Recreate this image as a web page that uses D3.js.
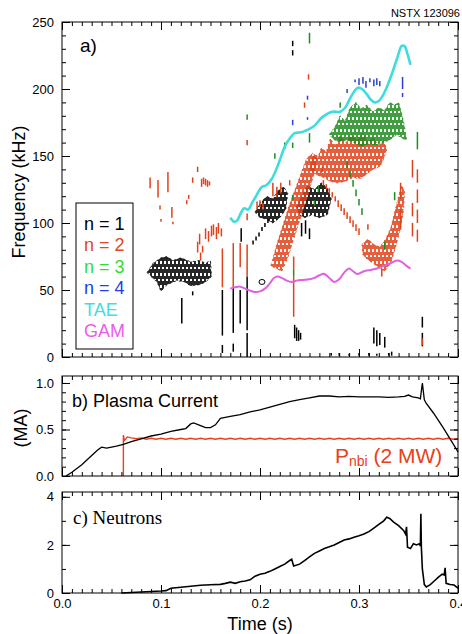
<!DOCTYPE html>
<html>
<head>
<meta charset="utf-8">
<script src="https://cdn.jsdelivr.net/npm/d3@7"></script>
<style>
body { margin: 0; background: #fff; }
</style>
</head>
<body>
<div id="chart"></div>
<script>
// ---- tick labels ----
var timeTicks = [0.0, 0.1, 0.2, 0.3, 0.4];
var freqTicks = [0, 50, 100, 150, 200, 250];
var currentTicks = [0.0, 0.5, 1.0];
var neutronTicks = [0, 2, 4];

// ---- panel a: mode activity, [t (s), f low (kHz), f high (kHz)] ----
var n1Dashes = [
  [0.121,25,44],[0.132,46,49],
  [0.162,16,50],[0.162,3,9],[0.173,18,52],[0.173,4,10],[0.180,25,50],[0.181,86,96],
  [0.187,20,60],[0.187,0,18],
  [0.193,84,87],[0.196,87,90],[0.199,90,93],[0.202,94,97],[0.205,97,100],[0.208,100,103],
  [0.242,90,100],[0.246,92,102],[0.250,88,96],[0.233,225,229],[0.233,232,236],
  [0.235,14,24],[0.237,12,22],[0.239,12,20],[0.241,13,18],
  [0.315,10,22],[0.318,8,20],[0.321,9,18],[0.326,7,15],
  [0.364,22,30],[0.364,8,18],
  [0.272,1,3],[0.280,1,3],[0.290,1,2.5],[0.300,1,3],[0.310,1,3],[0.318,1,2.5],[0.330,1,3],[0.333,1,4]
];
var n2Dashes = [
  [0.089,126,134],[0.097,119,132],[0.107,123,138],[0.099,110,113],[0.100,101,103],
  [0.111,104,112],[0.112,99,101],[0.126,114,117],[0.128,118,121],[0.132,130,134],[0.137,138,142],
  [0.141,127,133],[0.143,129,134],[0.145,128,133],[0.147,127,132],[0.149,128,131],
  [0.137,78,86],[0.140,72,78],[0.139,84,92],[0.142,78,83],[0.145,88,96],[0.148,86,94],
  [0.151,90,98],[0.153,91,99],[0.156,88,97],[0.158,92,100],[0.161,90,96],
  [0.162,52,81],[0.173,52,85],[0.180,67,85],[0.187,60,84],
  [0.187,102,107],[0.187,158,162],
  [0.197,110,116],[0.200,112,117],[0.203,110,115],
  [0.213,120,130],[0.217,119,127],[0.221,122,130],[0.230,128,132],
  [0.234,65,75],[0.234,30,60],
  [0.249,207,211],[0.245,186,190],[0.263,138,142],
  [0.264,128,132],[0.267,125,129],[0.270,122,126],[0.273,119,123],[0.276,116,120],
  [0.279,112,117],[0.282,109,114],[0.285,106,111],[0.288,103,108],[0.291,100,105],
  [0.294,97,102],[0.297,94,99],[0.300,91,96],[0.309,95,99],[0.323,60,66],
  [0.354,134,147],[0.354,105,115],[0.354,90,100],
  [0.359,130,140],[0.359,115,125],[0.359,100,110],[0.359,86,95],
  [0.342,118,130],[0.342,95,110],[0.364,9,14]
];
var n3Dashes = [
  [0.187,177,181],[0.250,234,242],[0.215,148,152],[0.225,155,160],[0.233,156,160],
  [0.281,186,190],[0.359,155,168],[0.336,117,123],[0.326,80,86],[0.234,60,65],
  [0.250,160,167],[0.259,123,128],[0.233,117,121],[0.255,113,117],
  [0.288,141,146],[0.291,134,139],[0.294,127,132],[0.297,120,125],[0.300,113,118],[0.303,106,111]
];
var n4Dashes = [
  [0.233,173,177],[0.248,192,195],[0.248,177,179],[0.288,197,200],
  [0.296,205,207],[0.300,203,208],[0.304,204,209],[0.307,201,206],[0.311,205,208],
  [0.315,202,207],[0.318,203,208],[0.321,202,206],[0.344,200,209],[0.344,194,197]
];
var n1Rings = [[0.202, 56]];

// dense patches, outline [t, f]
var n1Clouds = [
  [[0.086,63],[0.092,70],[0.100,74],[0.106,75],[0.112,72],[0.120,74],[0.130,71],[0.139,72],[0.145,70],[0.150,72],
   [0.151,60],[0.145,56],[0.139,54],[0.130,53],[0.124,56],[0.116,57],[0.106,54],[0.100,49],[0.096,56],[0.090,60]],
  [[0.195,108],[0.200,115],[0.207,120],[0.213,118],[0.218,124],[0.224,127],[0.228,122],[0.226,110],[0.220,104],[0.213,100],[0.206,103],[0.200,104]],
  [[0.237,112],[0.242,120],[0.248,128],[0.255,125],[0.262,130],[0.268,126],[0.272,118],[0.268,106],[0.260,104],[0.252,106],[0.245,104],[0.240,106]]
];
var n2Clouds = [
  [[0.250,140],[0.254,151],[0.258,148],[0.262,156],[0.267,153],[0.271,163],[0.276,158],[0.281,165],[0.287,160],
   [0.292,166],[0.298,162],[0.304,167],[0.309,160],[0.314,164],[0.320,158],[0.325,161],[0.328,155],[0.325,148],
   [0.321,142],[0.314,140],[0.307,136],[0.301,133],[0.294,134],[0.286,131],[0.278,130],[0.271,131],[0.264,134],[0.257,136]],
  [[0.211,68],[0.217,84],[0.223,98],[0.229,112],[0.236,126],[0.242,138],[0.247,148],[0.253,152],[0.258,150],
   [0.254,135],[0.248,120],[0.241,104],[0.234,88],[0.228,74],[0.222,64]],
  [[0.303,84],[0.309,88],[0.315,84],[0.321,82],[0.327,88],[0.332,96],[0.336,108],[0.340,120],[0.343,128],[0.346,124],
   [0.345,110],[0.342,96],[0.337,82],[0.332,70],[0.326,64],[0.318,68],[0.310,72],[0.304,76]]
];
var n3Clouds = [
  [[0.270,166],[0.276,172],[0.281,180],[0.286,176],[0.291,186],[0.297,190],[0.302,185],[0.308,188],[0.314,183],
   [0.320,186],[0.326,184],[0.331,190],[0.336,188],[0.340,190],[0.343,182],[0.346,172],[0.348,162],[0.344,163],
   [0.338,166],[0.331,162],[0.324,160],[0.317,158],[0.310,159],[0.302,157],[0.295,160],[0.288,162],[0.281,161],[0.275,162]]
];

var taeFreq = [
  [0.170,104],[0.174,101],[0.177,102],[0.181,108],[0.184,111],[0.188,110],[0.192,115],[0.196,120],[0.202,127],
  [0.206,128],[0.212,133],[0.217,141],[0.221,149],[0.225,157],[0.230,163],[0.235,167],[0.243,168],[0.254,172],
  [0.263,179],[0.273,183],[0.281,183],[0.286,186],[0.291,193],[0.295,198],[0.299,201],[0.303,200],[0.308,196],
  [0.312,192],[0.316,190],[0.320,191],[0.324,195],[0.329,203],[0.334,213],[0.339,224],[0.343,232],[0.346,232],
  [0.349,226],[0.352,218]
];
var gamFreq = [
  [0.170,51],[0.175,52],[0.180,52.5],[0.185,51],[0.190,49.5],[0.195,48.5],[0.200,49],[0.205,51],[0.210,55],
  [0.214,59],[0.218,60],[0.222,59],[0.227,57],[0.232,56],[0.237,57],[0.243,57.5],[0.250,58],[0.255,59],
  [0.260,61],[0.265,62],[0.270,59],[0.275,56],[0.280,58],[0.285,63],[0.290,66],[0.294,64],[0.298,62],
  [0.305,64],[0.312,65],[0.318,66],[0.325,68],[0.332,70],[0.338,72],[0.343,71],[0.348,68],[0.352,66]
];

// ---- panel b ----
var plasmaCurrent = [
  [0.004,0],[0.010,0.04],[0.020,0.12],[0.030,0.22],[0.036,0.28],[0.040,0.31],[0.045,0.30],[0.050,0.31],
  [0.055,0.32],[0.062,0.34],[0.070,0.37],[0.080,0.40],[0.090,0.43],[0.100,0.45],[0.110,0.48],[0.120,0.50],
  [0.125,0.51],[0.130,0.56],[0.133,0.57],[0.138,0.55],[0.145,0.52],[0.150,0.52],[0.155,0.55],[0.160,0.62],
  [0.170,0.64],[0.180,0.66],[0.190,0.69],[0.200,0.71],[0.210,0.74],[0.220,0.77],[0.230,0.80],[0.240,0.82],
  [0.250,0.84],[0.260,0.86],[0.270,0.86],[0.280,0.85],[0.290,0.855],[0.300,0.85],[0.310,0.85],[0.320,0.85],
  [0.330,0.845],[0.340,0.85],[0.346,0.855],[0.350,0.87],[0.354,0.85],[0.360,0.84],[0.362,0.83],[0.364,1.0],
  [0.366,0.82],[0.368,0.78],[0.375,0.68],[0.380,0.6],[0.385,0.52],[0.392,0.40],[0.396,0.33],[0.400,0.26]
];
var pnbi = [
  [0.062,0],[0.062,0.44],[0.063,0.38],[0.066,0.42],[0.070,0.41],[0.075,0.40],[0.080,0.41],[0.085,0.395],
  [0.090,0.405],[0.095,0.395],[0.100,0.405],[0.105,0.395],[0.110,0.405],[0.115,0.395],[0.120,0.405],
  [0.125,0.395],[0.130,0.405],[0.135,0.395],[0.140,0.405],[0.145,0.395],[0.150,0.405],[0.155,0.395],
  [0.160,0.405],[0.165,0.395],[0.170,0.405],[0.175,0.395],[0.180,0.405],[0.185,0.395],[0.190,0.405],
  [0.195,0.395],[0.200,0.405],[0.205,0.395],[0.210,0.405],[0.215,0.395],[0.220,0.405],[0.225,0.395],
  [0.230,0.405],[0.235,0.395],[0.240,0.405],[0.245,0.395],[0.250,0.405],[0.255,0.395],[0.260,0.405],
  [0.265,0.395],[0.270,0.405],[0.275,0.395],[0.280,0.405],[0.285,0.395],[0.290,0.405],[0.295,0.395],
  [0.300,0.405],[0.305,0.395],[0.310,0.405],[0.315,0.395],[0.320,0.405],[0.325,0.395],[0.330,0.405],
  [0.335,0.395],[0.340,0.405],[0.345,0.395],[0.350,0.405],[0.355,0.395],[0.360,0.405],[0.365,0.395],
  [0.370,0.405],[0.375,0.395],[0.380,0.405],[0.385,0.395],[0.390,0.405],[0.395,0.395],[0.400,0.405]
];

// ---- panel c ----
var neutrons = [
  [0.060,0],[0.070,0.02],[0.080,0.04],[0.090,0.06],[0.100,0.08],[0.105,0.10],[0.110,0.20],[0.120,0.24],
  [0.130,0.28],[0.140,0.32],[0.150,0.34],[0.160,0.36],[0.165,0.40],[0.170,0.45],[0.175,0.40],[0.180,0.47],
  [0.185,0.50],[0.190,0.55],[0.195,0.70],[0.200,0.78],[0.205,0.82],[0.210,0.90],[0.215,1.00],[0.220,1.10],
  [0.225,1.20],[0.230,1.35],[0.232,1.40],[0.234,1.12],[0.240,1.20],[0.245,1.35],[0.250,1.50],[0.255,1.65],
  [0.260,1.75],[0.265,1.85],[0.270,1.92],[0.275,2.00],[0.280,2.10],[0.285,2.20],[0.290,2.25],[0.295,2.32],
  [0.300,2.38],[0.305,2.45],[0.310,2.55],[0.315,2.70],[0.320,2.85],[0.325,3.00],[0.328,3.15],[0.331,3.10],
  [0.335,2.95],[0.340,2.80],[0.345,2.60],[0.347,2.45],[0.348,2.75],[0.349,1.90],[0.352,1.85],[0.355,2.05],
  [0.358,2.00],[0.361,2.05],[0.362,1.95],[0.3625,3.30],[0.363,1.90],[0.364,1.00],[0.366,0.35],[0.368,0.25],
  [0.372,0.35],[0.376,0.50],[0.380,0.65],[0.384,0.78],[0.386,0.75],[0.387,1.05],[0.388,0.40],[0.392,0.35],
  [0.396,0.33],[0.400,0.20]
];

var legendItems = [
  {label: 'n = 1', color: '#000000'},
  {label: 'n = 2', color: '#e4461e'},
  {label: 'n = 3', color: '#2ee02e'},
  {label: 'n = 4', color: '#2040e8'},
  {label: 'TAE', color: '#40dede'},
  {label: 'GAM', color: '#ec5cec'}
];
var modeColors = { n1: '#000000', n2: '#e0421a', n3: '#1e8c1e', n4: '#2a40d4' };

var SANS = '"Liberation Sans", Arial, Helvetica, sans-serif';
var SERIF = '"Liberation Serif", "Times New Roman", serif';

var width = 462, height = 634;
var svg = d3.select('#chart').append('svg')
  .attr('width', width).attr('height', height)
  .style('background', '#fff')
  .style('font-family', SANS);

var x = d3.scaleLinear().domain([0, 0.4]).range([62, 458]);
var ya = d3.scaleLinear().domain([0, 250]).range([357, 22]);
var yb = d3.scaleLinear().domain([0, 1.075]).range([476, 376]);
var yc = d3.scaleLinear().domain([0, 4.2]).range([593, 492]);

// dense vertical-stroke patterns to mimic the spectrogram texture
var defs = svg.append('defs');
Object.keys(modeColors).forEach(function(k) {
  var p = defs.append('pattern').attr('id', 'hatch-' + k)
    .attr('patternUnits', 'userSpaceOnUse').attr('width', 4).attr('height', 12);
  [[1, 0, 9], [3, 0, 3], [3, 5, 12]].forEach(function(s) {
    p.append('line').attr('x1', s[0]).attr('x2', s[0]).attr('y1', s[1]).attr('y2', s[2])
      .attr('stroke', modeColors[k]).attr('stroke-width', 1.7);
  });
});

function axes(y, top, bottom, yTicks, yMinor, yFmt, showX) {
  var g = svg.append('g');
  var xMinor = d3.range(0, 0.4001, 0.01);

  function style(sel) {
    sel.select('.domain').remove();
    sel.selectAll('line').attr('stroke', '#000').attr('stroke-width', 1);
    sel.selectAll('text').attr('font-size', 13).attr('fill', '#000').style('font-family', SANS);
  }

  g.append('g').attr('transform', 'translate(0,' + bottom + ')')
    .call(d3.axisBottom(x).tickValues(xMinor).tickSizeInner(-4).tickSizeOuter(0).tickFormat(''))
    .call(style);
  g.append('g').attr('transform', 'translate(0,' + bottom + ')')
    .call(d3.axisBottom(x).tickValues(timeTicks).tickSizeInner(-8).tickSizeOuter(0).tickPadding(6)
      .tickFormat(showX ? d3.format('.1f') : ''))
    .call(style);
  g.append('g').attr('transform', 'translate(0,' + top + ')')
    .call(d3.axisTop(x).tickValues(xMinor).tickSizeInner(-4).tickSizeOuter(0).tickFormat(''))
    .call(style);
  g.append('g').attr('transform', 'translate(0,' + top + ')')
    .call(d3.axisTop(x).tickValues(timeTicks).tickSizeInner(-8).tickSizeOuter(0).tickFormat(''))
    .call(style);

  g.append('g').attr('transform', 'translate(62,0)')
    .call(d3.axisLeft(y).tickValues(yMinor).tickSizeInner(-4).tickSizeOuter(0).tickFormat(''))
    .call(style);
  g.append('g').attr('transform', 'translate(62,0)')
    .call(d3.axisLeft(y).tickValues(yTicks).tickSizeInner(-8).tickSizeOuter(0).tickPadding(8).tickFormat(yFmt))
    .call(style);
  g.append('g').attr('transform', 'translate(458,0)')
    .call(d3.axisRight(y).tickValues(yMinor).tickSizeInner(-4).tickSizeOuter(0).tickFormat(''))
    .call(style);
  g.append('g').attr('transform', 'translate(458,0)')
    .call(d3.axisRight(y).tickValues(yTicks).tickSizeInner(-8).tickSizeOuter(0).tickFormat(''))
    .call(style);

  g.append('rect').attr('x', 62).attr('y', top).attr('width', 396).attr('height', bottom - top)
    .attr('fill', 'none').attr('stroke', '#000').attr('stroke-width', 1);
}

// ---------------- panel a ----------------
var cloudLine = d3.line().x(function(d) { return x(d[0]); }).y(function(d) { return ya(d[1]); })
  .curve(d3.curveLinearClosed);

function drawMode(key, clouds, dashes) {
  var g = svg.append('g');
  g.selectAll('path').data(clouds).enter().append('path')
    .attr('d', cloudLine)
    .attr('fill', 'url(#hatch-' + key + ')')
    .attr('stroke', modeColors[key])
    .attr('stroke-width', 0.8)
    .attr('stroke-dasharray', '2,3');
  g.selectAll('line').data(dashes).enter().append('line')
    .attr('x1', function(d) { return x(d[0]); })
    .attr('x2', function(d) { return x(d[0]); })
    .attr('y1', function(d) { return ya(d[1]); })
    .attr('y2', function(d) { return ya(d[2]); })
    .attr('stroke', modeColors[key])
    .attr('stroke-width', 1.5);
}

drawMode('n1', n1Clouds, n1Dashes);
svg.append('g').selectAll('ellipse').data(n1Rings).enter().append('ellipse')
  .attr('cx', function(d) { return x(d[0]); })
  .attr('cy', function(d) { return ya(d[1]); })
  .attr('rx', 3).attr('ry', 2.5)
  .attr('fill', 'none').attr('stroke', '#000').attr('stroke-width', 1);
drawMode('n2', n2Clouds, n2Dashes);
drawMode('n3', n3Clouds, n3Dashes);
drawMode('n4', [], n4Dashes);

var freqLine = d3.line().x(function(d) { return x(d[0]); }).y(function(d) { return ya(d[1]); })
  .curve(d3.curveCatmullRom);
svg.append('path').datum(taeFreq).attr('d', freqLine)
  .attr('fill', 'none').attr('stroke', '#3fdcdc').attr('stroke-width', 2.6);
svg.append('path').datum(gamFreq).attr('d', freqLine)
  .attr('fill', 'none').attr('stroke', '#e060e0').attr('stroke-width', 2);

axes(ya, 22, 357, freqTicks, d3.range(0, 250.1, 10), d3.format('d'), false);

// legend
var legend = svg.append('g');
legend.append('rect').attr('x', 76).attr('y', 203).attr('width', 57).attr('height', 146)
  .attr('fill', '#fff').attr('stroke', '#000').attr('stroke-width', 1);
legend.selectAll('text').data(legendItems).enter().append('text')
  .attr('x', 84)
  .attr('y', function(d, i) { return 230 + i * 21.4; })
  .attr('font-size', 18)
  .attr('fill', function(d) { return d.color; })
  .text(function(d) { return d.label; });

svg.append('text').attr('x', 80).attr('y', 52).attr('font-size', 19).text('a)');
svg.append('text').attr('x', 460).attr('y', 17).attr('text-anchor', 'end')
  .attr('font-size', 11).text('NSTX 123096');
svg.append('text').attr('transform', 'translate(25,192) rotate(-90)')
  .attr('text-anchor', 'middle').attr('font-size', 18).text('Frequency (kHz)');

// ---------------- panel b ----------------
var lineB = d3.line().x(function(d) { return x(d[0]); }).y(function(d) { return yb(d[1]); });
svg.append('path').datum(pnbi).attr('d', lineB)
  .attr('fill', 'none').attr('stroke', '#e8401a').attr('stroke-width', 1.4);
svg.append('path').datum(plasmaCurrent).attr('d', lineB)
  .attr('fill', 'none').attr('stroke', '#000').attr('stroke-width', 1.3);

axes(yb, 376, 476, currentTicks, d3.range(0, 1.0501, 0.1), d3.format('.1f'), false);

svg.append('text').attr('x', 72).attr('y', 407).attr('font-size', 18).text('b) Plasma Current');
var pn = svg.append('text').attr('x', 335).attr('y', 463).attr('font-size', 21).attr('fill', '#e8401a');
pn.append('tspan').text('P');
pn.append('tspan').attr('font-size', 14).attr('dy', 3).text('nbi');
pn.append('tspan').attr('dy', -3).text(' (2 MW)');
svg.append('text').attr('transform', 'translate(27,428) rotate(-90)')
  .attr('text-anchor', 'middle').attr('font-size', 18).text('(MA)');

// ---------------- panel c ----------------
var lineC = d3.line().x(function(d) { return x(d[0]); }).y(function(d) { return yc(d[1]); });
svg.append('path').datum(neutrons).attr('d', lineC)
  .attr('fill', 'none').attr('stroke', '#000').attr('stroke-width', 1.6);

axes(yc, 492, 593, neutronTicks, d3.range(0, 4.01, 1), d3.format('d'), true);

svg.append('text').attr('x', 73).attr('y', 524).attr('font-size', 19)
  .style('font-family', SERIF).text('c) Neutrons');
svg.append('text').attr('x', 260).attr('y', 630).attr('text-anchor', 'middle')
  .attr('font-size', 18).text('Time (s)');
</script>
</body>
</html>
